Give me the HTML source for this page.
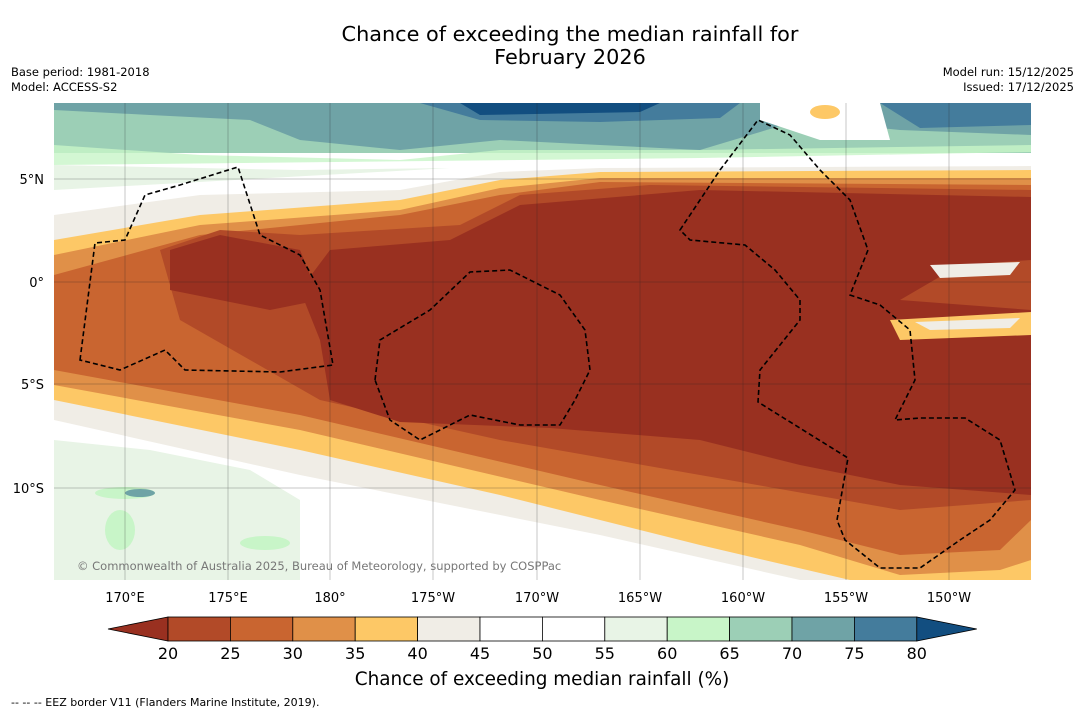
<!DOCTYPE html>
<html><head><meta charset="utf-8"><style>
body{margin:0;background:#fff;font-family:"DejaVu Sans","Liberation Sans",sans-serif}
</style></head><body>
<svg width="1085" height="713" xmlns="http://www.w3.org/2000/svg" font-family="DejaVu Sans, Liberation Sans, sans-serif">
<rect width="1085" height="713" fill="#fff"/>
<text x="570" y="41" font-size="20.8" text-anchor="middle">Chance of exceeding the median rainfall for</text>
<text x="570" y="64" font-size="20.8" text-anchor="middle">February 2026</text>
<text x="11" y="76" font-size="11.5">Base period: 1981-2018</text>
<text x="11" y="91" font-size="11.5">Model: ACCESS-S2</text>
<text x="1074" y="76" font-size="11.5" text-anchor="end">Model run: 15/12/2025</text>
<text x="1074" y="91" font-size="11.5" text-anchor="end">Issued: 17/12/2025</text>
<defs><clipPath id="mc"><rect x="54" y="103" width="977" height="477"/></clipPath></defs>
<g clip-path="url(#mc)">
<rect x="54" y="103" width="977" height="477" fill="#fff"/>
<rect x="54" y="103" width="977" height="50" fill="#9ccfb6"/>
<path d="M54,103 H1031 V135 L900,130 L800,120 L700,150 L600,145 L500,140 L400,150 L300,140 L250,120 L150,115 L54,110Z" fill="#6fa3a6"/>
<path d="M420,103 H740 L720,118 L600,122 L480,120Z" fill="#447c9c"/>
<path d="M460,103 H660 L640,112 L480,115Z" fill="#124e80"/>
<path d="M880,103 H1031 V125 L920,128Z" fill="#447c9c"/>
<path d="M760,103 H880 L890,140 L820,140 L760,120Z" fill="#fff"/>
<ellipse cx="825" cy="112" rx="15" ry="7" fill="#fdc866"/>
<path d="M54,145 L200,155 L400,160 L500,150 L700,150 L1031,145 V152 L700,158 L54,165Z" fill="#c8f5c8" opacity="0.8"/>
<path d="M54,165 L300,170 L450,168 L54,190Z" fill="#e8f4e6"/>
<path d="M54,215 L200,195 L400,190 L500,172 L600,168 L1031,166 V580 L800,580 L600,535 L300,475 L54,420Z" fill="#f0ede6"/>
<path d="M54,240 L200,215 L400,200 L500,180 L600,172 L1031,170 V580 L850,580 L700,545 L500,495 L300,450 L54,400Z" fill="#fdc866"/>
<path d="M54,255 L200,225 L400,210 L500,188 L600,178 L1031,178 V560 L1000,570 L900,575 L800,545 L600,500 L300,430 L54,385Z" fill="#e09048"/>
<path d="M54,275 L200,235 L400,215 L500,195 L600,182 L1031,185 V520 L1000,550 L900,555 L800,530 L600,485 L300,415 L54,370Z" fill="#c96530"/>
<path d="M160,250 L220,230 L300,235 L460,225 L520,195 L650,185 L1031,190 V500 L900,510 L700,475 L500,440 L320,400 L250,360 L180,320Z" fill="#b24a28"/>
<path d="M300,290 L330,250 L450,240 L520,205 L700,190 L1031,197 V260 L960,265 L900,300 L1031,310 V495 L900,485 L800,465 L700,440 L550,428 L400,422 L330,400 L320,340Z" fill="#993020"/>
<path d="M170,250 L220,235 L300,250 L320,300 L270,310 L220,300 L170,290Z" fill="#993020"/>
<path d="M930,265 L1020,262 L1010,275 L940,278Z" fill="#f0ede6"/>
<path d="M890,320 L1031,312 V335 L900,340Z" fill="#fdc866"/>
<path d="M915,322 L1020,318 L1010,328 L930,330Z" fill="#f0ede6"/>
<path d="M54,440 L150,450 L250,470 L300,500 L300,580 L54,580Z" fill="#e8f4e6"/>
<ellipse cx="125" cy="493" rx="30" ry="6" fill="#c8f5c8"/>
<ellipse cx="140" cy="493" rx="15" ry="4" fill="#6fa3a6"/>
<ellipse cx="120" cy="530" rx="15" ry="20" fill="#c8f5c8"/>
<ellipse cx="265" cy="543" rx="25" ry="7" fill="#c8f5c8"/>
<g stroke="#222" stroke-width="0.5" opacity="0.5">
<line x1="125" y1="103" x2="125" y2="580"/><line x1="228" y1="103" x2="228" y2="580"/><line x1="330" y1="103" x2="330" y2="580"/><line x1="433" y1="103" x2="433" y2="580"/><line x1="537" y1="103" x2="537" y2="580"/><line x1="640" y1="103" x2="640" y2="580"/><line x1="743" y1="103" x2="743" y2="580"/><line x1="846" y1="103" x2="846" y2="580"/><line x1="949" y1="103" x2="949" y2="580"/>
<line x1="54" y1="179" x2="1031" y2="179"/><line x1="54" y1="282" x2="1031" y2="282"/><line x1="54" y1="384" x2="1031" y2="384"/><line x1="54" y1="488" x2="1031" y2="488"/>
</g>
<g fill="none" stroke="#000" stroke-width="1.6" stroke-dasharray="5,3">
<path d="M80,360 L95,243 L125,240 L145,195 L180,185 L238,167 L260,235 L300,255 L320,290 L333,365 L280,372 L185,370 L165,350 L120,370 Z"/>
<path d="M375,380 L380,340 L430,310 L470,272 L510,270 L560,295 L585,330 L590,370 L575,400 L560,425 L520,425 L470,415 L420,440 L390,420 Z"/>
<path d="M680,230 L720,170 L758,120 L790,135 L820,170 L850,200 L868,250 L850,295 L880,305 L910,330 L915,380 L895,420 L920,418 L965,418 L1000,440 L1015,490 L990,520 L960,540 L920,568 L880,568 L845,540 L837,520 L848,458 L758,402 L760,370 L800,320 L800,300 L775,270 L745,245 L690,240 Z"/>
</g>
<text x="77" y="570" font-size="11.5" fill="#777">© Commonwealth of Australia 2025, Bureau of Meteorology, supported by COSPPac</text>
</g>
<g font-size="13">
<text x="44" y="184" text-anchor="end">5°N</text><text x="44" y="287" text-anchor="end">0°</text><text x="44" y="389" text-anchor="end">5°S</text><text x="44" y="493" text-anchor="end">10°S</text>
</g>
<g font-size="13" text-anchor="middle">
<text x="125" y="602">170°E</text><text x="228" y="602">175°E</text><text x="330" y="602">180°</text><text x="433" y="602">175°W</text><text x="537" y="602">170°W</text><text x="640" y="602">165°W</text><text x="743" y="602">160°W</text><text x="846" y="602">155°W</text><text x="949" y="602">150°W</text>
</g>
<g id="cb"></g>
<text x="542" y="685" font-size="18.4" text-anchor="middle">Chance of exceeding median rainfall (%)</text>
<text x="11" y="706" font-size="11">--  --  -- EEZ border V11 (Flanders Marine Institute, 2019).</text>
</svg>
<script>
const cbColors=["#b24a28","#c96530","#e09048","#fdc866","#f0ede6","#ffffff","#ffffff","#e8f4e6","#c8f5c8","#9ccfb6","#6fa3a6","#447c9c"];
const cbTicks=[20,25,30,35,40,45,50,55,60,65,70,75,80];
const ns="http://www.w3.org/2000/svg";
const g=document.getElementById('cb');
const x0=168,w=62.4,y=617,h=24;
function mk(t,a){const e=document.createElementNS(ns,t);for(const k in a)e.setAttribute(k,a[k]);g.appendChild(e);return e;}
let p=mk('polygon',{points:`${x0},${y} ${x0},${y+h} 108,${y+h/2}`,fill:'#993020',stroke:'#000','stroke-width':0.8});


cbColors.forEach((c,i)=>{const r=mk('rect',{x:x0+i*w,y:y,width:w,height:h,fill:c,stroke:'#000','stroke-width':0.8});

});
const xe=x0+cbColors.length*w;
p=mk('polygon',{points:`${xe},${y} ${xe},${y+h} ${xe+60},${y+h/2}`,fill:'#124e80',stroke:'#000','stroke-width':0.8});


cbTicks.forEach((t,i)=>{const e=mk('text',{x:x0+i*w,y:659,'font-size':16,'text-anchor':'middle'});e.textContent=t;

});
</script>
</body></html>
